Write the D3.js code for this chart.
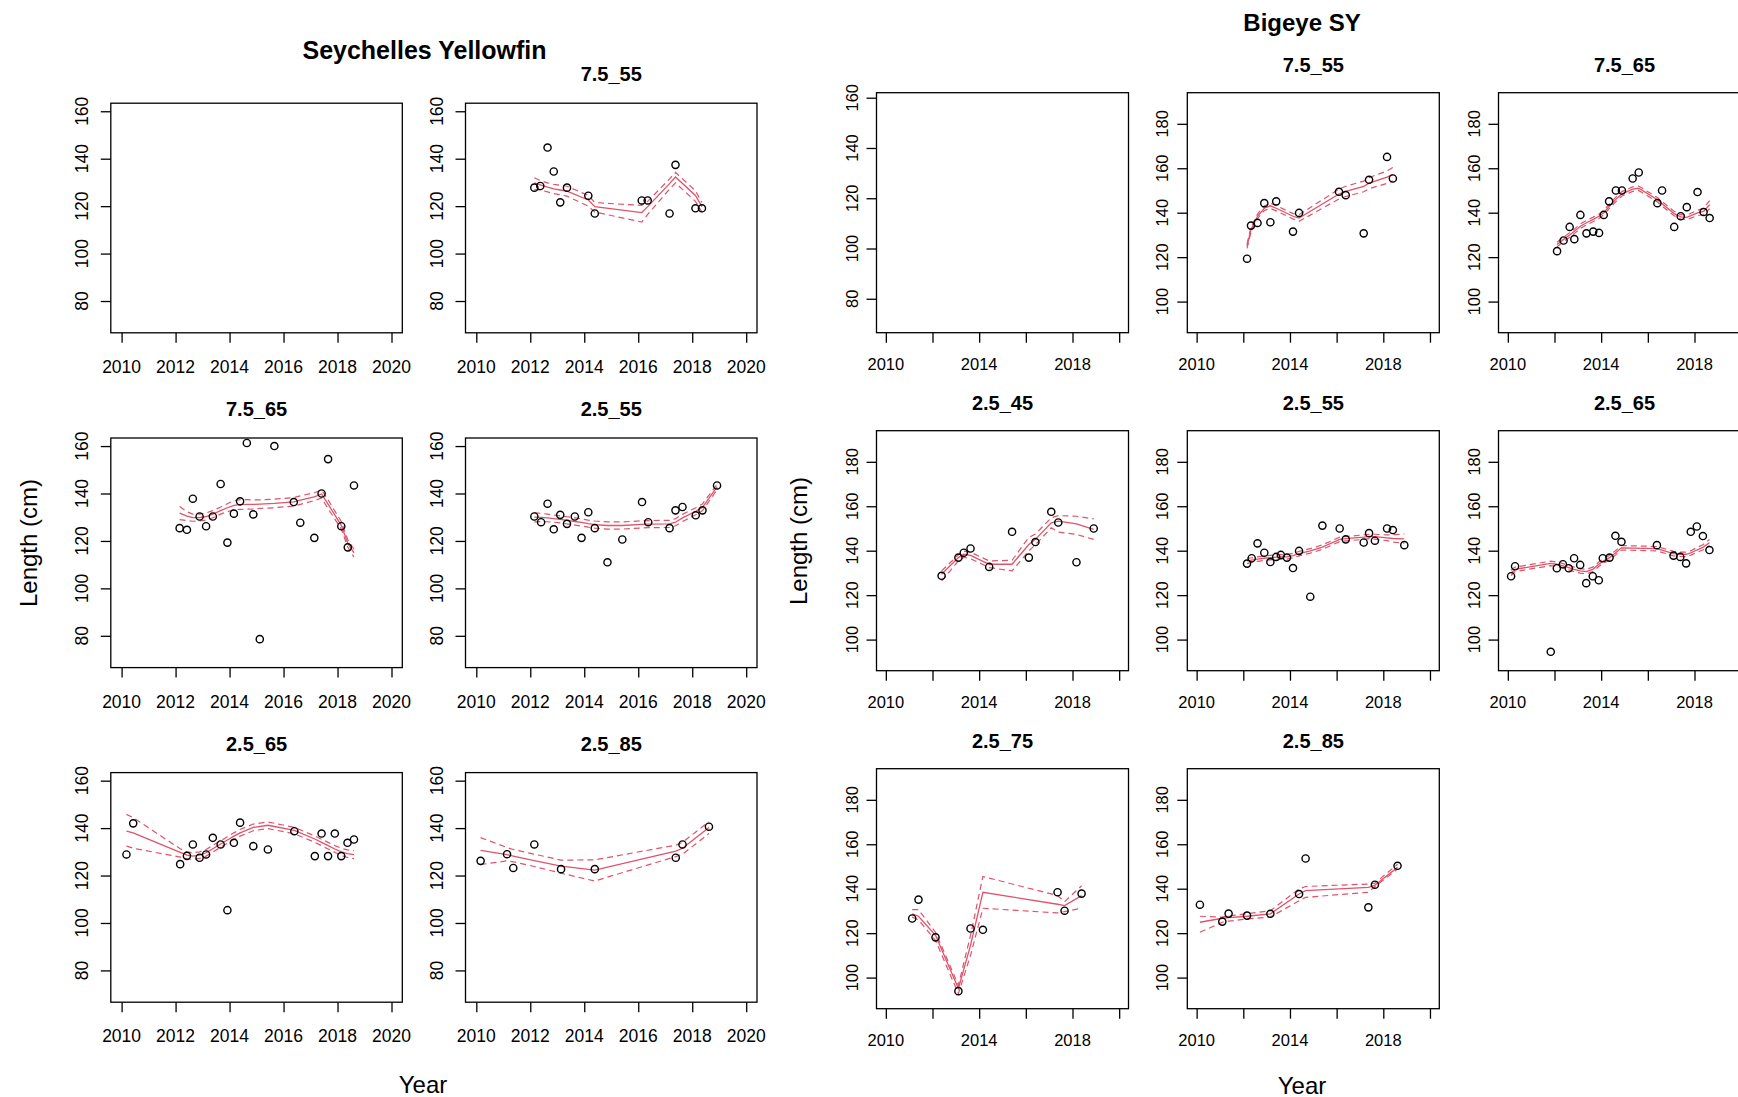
<!DOCTYPE html>
<html>
<head>
<meta charset="utf-8">
<script src="https://cdn.jsdelivr.net/npm/d3@7"></script>
<style>
  body { margin: 0; background: #fff; }
  text { font-family: "Liberation Sans", Arial, Helvetica, sans-serif; fill: #000; }
</style>
</head>
<body>
<svg id="chart" width="1738" height="1097"></svg>
<script>
// ---------- Tick values ----------
const xTicks = [2010, 2012, 2014, 2016, 2018, 2020];
const xLabelsAll = [2010, 2012, 2014, 2016, 2018, 2020];
const xLabelsSparse = [2010, 2014, 2018];
const yTicksLow = [80, 100, 120, 140, 160];
const yTicksHigh = [100, 120, 140, 160, 180];

// ---------- Seychelles Yellowfin ----------
// 7.5_55
const yf755Year = [2012.15, 2012.37, 2012.64, 2012.87, 2013.11, 2013.36, 2014.15, 2014.39, 2016.13, 2016.35, 2017.16, 2017.38, 2018.12, 2018.36];
const yf755Len  = [127.8, 128.5, 144.7, 134.6, 121.6, 127.8, 124.4, 116.9, 122.4, 122.4, 116.9, 137.4, 119.1, 119.1];
const yf755Fit  = [129.8, 129.0, 128.0, 127.3, 126.8, 126.3, 122.6, 119.8, 117.3, 119.8, 129.5, 132.3, 124.5, 119.8];
const yf755Hi   = [132.0, 130.8, 129.8, 129.2, 128.8, 128.4, 124.5, 121.5, 120.3, 122.0, 131.5, 134.2, 126.5, 121.5];
const yf755Lo   = [127.0, 126.8, 126.0, 125.3, 124.8, 124.2, 120.0, 117.5, 113.3, 116.5, 127.2, 129.8, 122.0, 117.5];

// 7.5_65
const yf765Year = [2012.15, 2012.42, 2012.64, 2012.89, 2013.13, 2013.38, 2013.67, 2013.92, 2014.16, 2014.39, 2014.64, 2014.88, 2015.12, 2015.66, 2016.38, 2016.62, 2017.14, 2017.41, 2017.65, 2018.14, 2018.38, 2018.61];
const yf765Len  = [125.4, 124.7, 137.8, 130.3, 126.2, 130.3, 144.0, 119.3, 131.5, 136.7, 161.3, 131.2, 78.6, 160.0, 136.4, 127.7, 121.3, 140.0, 154.5, 126.2, 117.3, 143.4];
const yf765Fit  = [131.7, 130.5, 129.8, 129.8, 130.3, 131.3, 132.8, 134.0, 135.0, 135.3, 135.4, 135.4, 135.5, 135.8, 136.5, 137.2, 138.6, 139.8, 135.5, 126.6, 119.0, 115.0];
const yf765Hi   = [134.5, 132.3, 131.3, 131.3, 131.8, 132.8, 134.3, 135.7, 137.0, 137.4, 137.4, 137.3, 137.3, 137.6, 138.3, 139.0, 140.3, 141.5, 137.3, 128.2, 120.5, 116.5];
const yf765Lo   = [129.0, 128.6, 128.3, 128.4, 128.8, 129.8, 131.3, 132.3, 133.2, 133.3, 133.4, 133.5, 133.7, 134.0, 134.7, 135.4, 137.0, 138.1, 133.6, 125.0, 117.4, 113.2];

// 2.5_55
const yf255Year = [2012.15, 2012.40, 2012.64, 2012.87, 2013.11, 2013.36, 2013.65, 2013.90, 2014.15, 2014.39, 2014.86, 2015.41, 2016.14, 2016.37, 2017.16, 2017.38, 2017.64, 2018.13, 2018.38, 2018.92];
const yf255Len  = [130.3, 127.9, 135.7, 124.9, 131.0, 127.2, 130.3, 121.3, 132.1, 125.4, 111.0, 120.6, 136.4, 127.9, 125.4, 132.9, 134.3, 130.8, 132.9, 143.4];
const yf255Fit  = [130.0, 129.9, 129.7, 129.4, 129.1, 128.7, 128.2, 127.8, 127.3, 126.9, 126.5, 126.5, 127.0, 127.1, 127.2, 127.9, 129.7, 132.5, 134.2, 142.8];
const yf255Hi   = [132.0, 131.6, 131.3, 130.9, 130.6, 130.2, 129.7, 129.3, 128.8, 128.4, 128.0, 128.0, 128.5, 128.6, 128.7, 129.4, 131.2, 134.0, 135.6, 143.8];
const yf255Lo   = [128.0, 128.2, 128.1, 127.9, 127.6, 127.2, 126.7, 126.3, 125.8, 125.4, 125.0, 125.0, 125.5, 125.6, 125.7, 126.4, 128.2, 131.0, 132.8, 141.6];

// 2.5_65
const yf265Year = [2010.18, 2010.43, 2012.17, 2012.42, 2012.64, 2012.89, 2013.13, 2013.38, 2013.67, 2013.92, 2014.16, 2014.39, 2014.88, 2015.42, 2016.40, 2017.16, 2017.41, 2017.65, 2017.90, 2018.14, 2018.37, 2018.61];
const yf265Len  = [128.9, 142.0, 124.8, 128.3, 133.1, 127.5, 128.9, 135.9, 133.1, 105.4, 133.8, 142.3, 132.4, 131.0, 138.7, 128.2, 137.7, 128.2, 137.7, 128.2, 133.8, 135.2];
const yf265Fit  = [138.7, 138.0, 129.8, 128.6, 128.2, 128.6, 129.6, 131.3, 133.3, 135.0, 136.6, 138.0, 140.3, 141.2, 139.0, 135.4, 134.0, 132.6, 131.2, 130.0, 129.2, 128.8];
const yf265Hi   = [145.8, 144.4, 131.3, 130.0, 129.6, 130.0, 131.0, 132.7, 134.6, 136.4, 138.0, 139.4, 141.7, 142.6, 140.3, 136.7, 135.3, 134.0, 132.6, 131.5, 130.8, 130.5];
const yf265Lo   = [132.4, 131.5, 127.8, 127.0, 126.8, 127.2, 128.2, 129.9, 131.9, 133.6, 135.2, 136.6, 138.9, 139.8, 137.6, 134.0, 132.6, 131.2, 129.8, 128.5, 127.6, 127.1];

// 2.5_85
const yf285Year = [2010.16, 2011.14, 2011.37, 2012.15, 2013.14, 2014.39, 2017.39, 2017.64, 2018.62];
const yf285Len  = [126.2, 129.0, 123.2, 133.1, 122.7, 122.7, 127.5, 133.1, 140.6];
const yf285Fit  = [130.6, 128.8, 128.2, 126.3, 124.0, 122.3, 130.3, 131.5, 140.3];
const yf285Hi   = [136.0, 131.8, 131.0, 129.0, 126.5, 126.6, 132.8, 134.0, 142.7];
const yf285Lo   = [124.6, 126.2, 125.8, 123.8, 121.0, 117.7, 128.0, 129.0, 137.7];

// ---------- Bigeye SY ----------
// 7.5_55
const be755Year = [2012.16, 2012.33, 2012.61, 2012.90, 2013.16, 2013.41, 2014.13, 2014.39, 2016.10, 2016.39, 2017.16, 2017.39, 2018.16, 2018.41];
const be755Len  = [119.3, 134.2, 135.4, 144.3, 135.7, 145.1, 131.5, 139.9, 149.4, 147.9, 130.7, 154.8, 165.1, 155.4];
const be755Fit  = [124.9, 132.4, 138.4, 142.0, 143.1, 142.0, 138.4, 137.6, 148.4, 149.6, 151.8, 153.3, 156.0, 157.3];
const be755Hi   = [125.9, 133.4, 139.4, 143.0, 144.3, 143.2, 139.6, 139.1, 150.6, 151.9, 154.2, 155.8, 158.8, 160.3];
const be755Lo   = [123.9, 131.4, 137.4, 141.0, 141.9, 140.8, 137.2, 136.1, 146.2, 147.3, 149.4, 150.8, 153.2, 154.3];

// 7.5_65
const be765Year = [2012.11, 2012.39, 2012.65, 2012.85, 2013.11, 2013.37, 2013.66, 2013.91, 2014.11, 2014.34, 2014.63, 2014.89, 2015.35, 2015.61, 2016.41, 2016.61, 2017.13, 2017.41, 2017.67, 2018.13, 2018.39, 2018.65];
const be765Len  = [122.7, 127.5, 133.6, 128.1, 139.0, 130.7, 131.5, 130.9, 139.0, 145.1, 150.0, 150.0, 155.4, 158.1, 144.3, 150.0, 133.6, 138.4, 142.5, 149.3, 140.3, 137.6];
const be765Fit  = [125.7, 128.0, 130.0, 131.6, 133.9, 135.5, 137.0, 138.4, 140.0, 142.8, 146.0, 148.5, 150.6, 151.0, 145.8, 144.0, 139.6, 138.1, 137.9, 139.9, 140.6, 143.6];
const be765Hi   = [126.7, 129.0, 131.0, 132.6, 134.9, 136.5, 138.0, 139.4, 141.0, 143.8, 147.0, 149.5, 151.6, 152.0, 146.8, 145.0, 140.6, 139.1, 138.9, 141.1, 142.0, 145.4];
const be765Lo   = [124.7, 127.0, 129.0, 130.6, 132.9, 134.5, 136.0, 137.4, 139.0, 141.8, 145.0, 147.5, 149.6, 150.0, 144.8, 143.0, 138.6, 137.1, 136.9, 138.7, 139.2, 141.8];

// 2.5_45
const be245Year = [2012.39, 2013.11, 2013.34, 2013.63, 2014.43, 2015.41, 2016.13, 2016.41, 2017.09, 2017.39, 2018.17, 2018.91];
const be245Len  = [128.7, 136.9, 139.1, 141.0, 132.7, 148.5, 136.9, 143.9, 157.5, 152.7, 134.8, 150.0];
const be245Fit  = [129.4, 136.9, 138.4, 137.9, 133.9, 133.9, 142.8, 145.1, 152.5, 153.3, 152.1, 149.6];
const be245Hi   = [130.9, 138.2, 139.8, 139.3, 135.4, 135.7, 146.0, 147.5, 154.8, 155.8, 155.5, 154.3];
const be245Lo   = [126.4, 135.4, 137.0, 136.4, 132.4, 130.9, 139.9, 142.7, 150.3, 148.4, 147.3, 145.1];

// 2.5_55
const be255Year = [2012.16, 2012.36, 2012.61, 2012.90, 2013.16, 2013.41, 2013.61, 2013.87, 2014.13, 2014.39, 2014.87, 2015.39, 2016.13, 2016.39, 2017.16, 2017.39, 2017.64, 2018.16, 2018.41, 2018.90];
const be255Len  = [134.2, 136.6, 143.3, 139.1, 134.9, 137.2, 138.1, 136.9, 132.2, 139.9, 119.3, 151.3, 150.0, 145.1, 143.7, 147.9, 144.5, 150.0, 149.3, 142.5];
const be255Fit  = [135.4, 135.8, 136.2, 136.6, 136.9, 137.1, 137.2, 137.2, 137.8, 138.7, 139.9, 141.6, 145.1, 145.4, 146.1, 146.4, 146.3, 145.8, 145.5, 145.3];
const be255Hi   = [136.6, 136.8, 137.2, 137.6, 137.9, 138.1, 138.2, 138.2, 138.8, 139.7, 140.9, 142.6, 146.1, 146.4, 147.1, 147.4, 147.4, 147.1, 147.2, 147.5];
const be255Lo   = [134.2, 134.8, 135.2, 135.6, 135.9, 136.1, 136.2, 136.2, 136.8, 137.7, 138.9, 140.6, 144.1, 144.4, 145.1, 145.4, 145.2, 144.5, 143.9, 143.3];

// 2.5_65
const be265Year = [2010.14, 2010.31, 2011.84, 2012.10, 2012.36, 2012.61, 2012.84, 2013.10, 2013.36, 2013.64, 2013.90, 2014.07, 2014.36, 2014.61, 2014.87, 2016.39, 2017.10, 2017.39, 2017.64, 2017.84, 2018.10, 2018.36, 2018.64];
const be265Len  = [128.5, 133.0, 94.5, 132.1, 133.9, 132.1, 136.6, 133.6, 125.4, 128.5, 126.7, 136.6, 136.9, 146.7, 144.0, 142.5, 137.8, 137.2, 134.3, 148.5, 150.9, 146.6, 140.3];
const be265Fit  = [130.0, 131.6, 134.3, 133.9, 133.2, 132.4, 131.6, 130.9, 130.6, 131.6, 133.9, 135.2, 136.9, 139.0, 141.3, 140.9, 138.7, 138.4, 138.4, 139.0, 140.3, 141.5, 143.6];
const be265Hi   = [131.2, 132.6, 135.3, 134.9, 134.2, 133.4, 132.6, 131.9, 131.6, 132.6, 134.9, 136.2, 137.9, 140.0, 142.3, 141.9, 139.7, 139.4, 139.4, 140.0, 141.4, 142.7, 145.0];
const be265Lo   = [128.8, 130.6, 133.3, 132.9, 132.2, 131.4, 130.6, 129.9, 129.6, 130.6, 132.9, 134.2, 135.9, 138.0, 140.3, 139.9, 137.7, 137.4, 137.4, 138.0, 139.2, 140.3, 142.2];

// 2.5_75
const be275Year = [2011.13, 2011.40, 2012.13, 2013.11, 2013.63, 2014.16, 2017.36, 2017.66, 2018.39];
const be275Len  = [126.6, 135.1, 118.1, 93.9, 122.1, 121.5, 138.4, 130.1, 137.8];
const be275Fit  = [128.7, 127.6, 119.0, 95.1, 114.5, 138.4, 133.0, 132.4, 136.9];
const be275Hi   = [130.6, 130.6, 120.4, 96.6, 119.0, 145.5, 136.9, 134.2, 141.3];
const be275Lo   = [127.2, 126.0, 116.7, 92.8, 110.0, 131.2, 129.1, 129.7, 131.2];

// 2.5_85
const be285Year = [2010.14, 2011.10, 2011.37, 2012.16, 2013.16, 2014.39, 2014.67, 2017.36, 2017.64, 2018.61];
const be285Len  = [132.8, 125.2, 128.8, 127.9, 128.7, 137.6, 153.6, 131.6, 141.8, 150.3];
const be285Fit  = [124.9, 126.7, 127.0, 127.6, 128.7, 137.6, 139.1, 140.6, 141.6, 149.6];
const be285Hi   = [127.6, 127.2, 127.8, 128.7, 130.1, 139.9, 141.0, 142.1, 142.5, 151.0];
const be285Lo   = [120.4, 124.9, 125.4, 126.4, 127.2, 134.6, 136.1, 138.4, 141.0, 148.8];

// ---------- Layout ----------
const xDomain = [2009.6, 2020.4];
const yDomainLow = [66.6, 163.4];
const yDomainHigh = [86, 194];
const lineColor = "#DF536B";

const leftCols = [110.8, 465.5], leftRows = [103.2, 438, 772.6];
const leftW = 291.5, leftH = 229.6;
const rightCols = [876.5, 1187.3, 1498.5], rightRows = [92.7, 430.7, 768.7];
const rightW = 252, rightH = 240;

// per-side text placement
const sideStyle = {
  L: { tickFont: 17.5, xLabOff: 34, yLabOff: 29, titleOff: -29 },
  R: { tickFont: 16.5, xLabOff: 31, yLabOff: 25, titleOff: -28 }
};

function series(years, len, fit, hi, lo) {
  return { years, len, fit, hi, lo };
}

const panels = [
  // Seychelles Yellowfin
  { x: leftCols[0], y: leftRows[0], w: leftW, h: leftH, yd: yDomainLow, yt: yTicksLow, xl: xLabelsAll, side: "L", title: null, s: null },
  { x: leftCols[1], y: leftRows[0], w: leftW, h: leftH, yd: yDomainLow, yt: yTicksLow, xl: xLabelsAll, side: "L", title: "7.5_55", s: series(yf755Year, yf755Len, yf755Fit, yf755Hi, yf755Lo) },
  { x: leftCols[0], y: leftRows[1], w: leftW, h: leftH, yd: yDomainLow, yt: yTicksLow, xl: xLabelsAll, side: "L", title: "7.5_65", s: series(yf765Year, yf765Len, yf765Fit, yf765Hi, yf765Lo) },
  { x: leftCols[1], y: leftRows[1], w: leftW, h: leftH, yd: yDomainLow, yt: yTicksLow, xl: xLabelsAll, side: "L", title: "2.5_55", s: series(yf255Year, yf255Len, yf255Fit, yf255Hi, yf255Lo) },
  { x: leftCols[0], y: leftRows[2], w: leftW, h: leftH, yd: yDomainLow, yt: yTicksLow, xl: xLabelsAll, side: "L", title: "2.5_65", s: series(yf265Year, yf265Len, yf265Fit, yf265Hi, yf265Lo) },
  { x: leftCols[1], y: leftRows[2], w: leftW, h: leftH, yd: yDomainLow, yt: yTicksLow, xl: xLabelsAll, side: "L", title: "2.5_85", s: series(yf285Year, yf285Len, yf285Fit, yf285Hi, yf285Lo) },
  // Bigeye SY
  { x: rightCols[0], y: rightRows[0], w: rightW, h: rightH, yd: [66.5, 162], yt: yTicksLow, xl: xLabelsSparse, side: "R", title: null, s: null },
  { x: rightCols[1], y: rightRows[0], w: rightW, h: rightH, yd: yDomainHigh, yt: yTicksHigh, xl: xLabelsSparse, side: "R", title: "7.5_55", s: series(be755Year, be755Len, be755Fit, be755Hi, be755Lo) },
  { x: rightCols[2], y: rightRows[0], w: rightW, h: rightH, yd: yDomainHigh, yt: yTicksHigh, xl: xLabelsSparse, side: "R", title: "7.5_65", s: series(be765Year, be765Len, be765Fit, be765Hi, be765Lo) },
  { x: rightCols[0], y: rightRows[1], w: rightW, h: rightH, yd: yDomainHigh, yt: yTicksHigh, xl: xLabelsSparse, side: "R", title: "2.5_45", s: series(be245Year, be245Len, be245Fit, be245Hi, be245Lo) },
  { x: rightCols[1], y: rightRows[1], w: rightW, h: rightH, yd: yDomainHigh, yt: yTicksHigh, xl: xLabelsSparse, side: "R", title: "2.5_55", s: series(be255Year, be255Len, be255Fit, be255Hi, be255Lo) },
  { x: rightCols[2], y: rightRows[1], w: rightW, h: rightH, yd: yDomainHigh, yt: yTicksHigh, xl: xLabelsSparse, side: "R", title: "2.5_65", s: series(be265Year, be265Len, be265Fit, be265Hi, be265Lo) },
  { x: rightCols[0], y: rightRows[2], w: rightW, h: rightH, yd: yDomainHigh, yt: yTicksHigh, xl: xLabelsSparse, side: "R", title: "2.5_75", s: series(be275Year, be275Len, be275Fit, be275Hi, be275Lo) },
  { x: rightCols[1], y: rightRows[2], w: rightW, h: rightH, yd: yDomainHigh, yt: yTicksHigh, xl: xLabelsSparse, side: "R", title: "2.5_85", s: series(be285Year, be285Len, be285Fit, be285Hi, be285Lo) }
];

const svg = d3.select("#chart");
svg.append("rect").attr("width", 1738).attr("height", 1097).attr("fill", "#fff");

function drawPanel(p) {
  const st = sideStyle[p.side];
  const g = svg.append("g").attr("transform", `translate(${p.x},${p.y})`);
  const x = d3.scaleLinear().domain(xDomain).range([0, p.w]);
  const y = d3.scaleLinear().domain(p.yd).range([p.h, 0]);

  // x axis: ticks at every other year, labels where they fit
  const xa = g.append("g").attr("transform", `translate(0,${p.h})`)
    .call(d3.axisBottom(x).tickValues(xTicks).tickSize(10).tickFormat(() => ""));
  xa.select(".domain").remove();
  xa.selectAll(".tick line").attr("stroke", "#000").attr("stroke-width", 1.3);
  g.append("g").selectAll("text").data(xTicks.filter(t => p.xl.includes(t))).join("text")
    .attr("x", d => x(d)).attr("y", p.h + st.xLabOff)
    .attr("text-anchor", "middle").attr("dominant-baseline", "central")
    .attr("font-size", st.tickFont).text(d => d);

  // y axis with labels parallel to the axis
  const ya = g.append("g").call(d3.axisLeft(y).tickValues(p.yt).tickSize(10).tickFormat(() => ""));
  ya.select(".domain").remove();
  ya.selectAll(".tick line").attr("stroke", "#000").attr("stroke-width", 1.3);
  g.append("g").selectAll("text").data(p.yt).join("text")
    .attr("transform", d => `translate(${-st.yLabOff},${y(d)}) rotate(-90)`)
    .attr("text-anchor", "middle").attr("dominant-baseline", "central")
    .attr("font-size", st.tickFont).text(d => d);

  if (p.title) {
    g.append("text").attr("x", p.w / 2).attr("y", st.titleOff)
      .attr("text-anchor", "middle").attr("dominant-baseline", "central")
      .attr("font-size", 20).attr("font-weight", "bold").text(p.title);
  }

  if (p.s) {
    const s = p.s;
    const pts = (vals) => s.years.map((yr, i) => [yr, vals[i]]);
    const line = d3.line().x(d => x(d[0])).y(d => y(d[1]));
    g.append("path").attr("d", line(pts(s.hi))).attr("fill", "none")
      .attr("stroke", lineColor).attr("stroke-width", 1.2).attr("stroke-dasharray", "6,4");
    g.append("path").attr("d", line(pts(s.lo))).attr("fill", "none")
      .attr("stroke", lineColor).attr("stroke-width", 1.2).attr("stroke-dasharray", "6,4");
    g.append("path").attr("d", line(pts(s.fit))).attr("fill", "none")
      .attr("stroke", lineColor).attr("stroke-width", 1.3);
    g.append("g").selectAll("circle").data(pts(s.len)).join("circle")
      .attr("cx", d => x(d[0])).attr("cy", d => y(d[1])).attr("r", 3.6)
      .attr("fill", "none").attr("stroke", "#000").attr("stroke-width", 1.4);
  }

  g.append("rect").attr("width", p.w).attr("height", p.h)
    .attr("fill", "none").attr("stroke", "#000").attr("stroke-width", 1.3);
}

panels.forEach(drawPanel);

// Figure titles and shared axis titles
const labels = [
  { t: "Seychelles Yellowfin", x: 424.5, y: 50, size: 25, bold: true, rot: false },
  { t: "Bigeye SY", x: 1302, y: 22, size: 24, bold: true, rot: false },
  { t: "Length (cm)", x: 28, y: 543, size: 24, bold: false, rot: true },
  { t: "Length (cm)", x: 798, y: 541, size: 24, bold: false, rot: true },
  { t: "Year", x: 423, y: 1084, size: 24, bold: false, rot: false },
  { t: "Year", x: 1302, y: 1085, size: 24, bold: false, rot: false }
];
svg.append("g").selectAll("text").data(labels).join("text")
  .attr("transform", d => `translate(${d.x},${d.y})` + (d.rot ? " rotate(-90)" : ""))
  .attr("text-anchor", "middle").attr("dominant-baseline", "central")
  .attr("font-size", d => d.size).attr("font-weight", d => d.bold ? "bold" : "normal")
  .text(d => d.t);
</script>
</body>
</html>
